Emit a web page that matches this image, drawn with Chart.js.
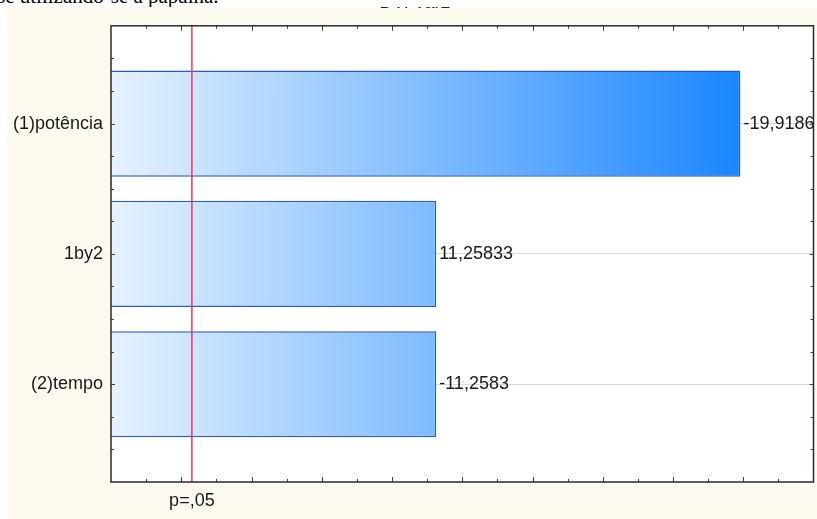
<!DOCTYPE html>
<html>
<head>
<meta charset="utf-8">
<title>Pareto</title>
<script src="https://cdn.jsdelivr.net/npm/chart.js@4"></script>
<style>
  html, body { margin: 0; padding: 0; background: #fff; }
  body { width: 817px; height: 519px; position: relative; overflow: hidden; }
  #doc-text {
    position: absolute; left: -3px; top: -14px;
    font: 21px/21px "Liberation Serif", "Times New Roman", serif;
    color: #000; white-space: nowrap;
  }
  #panel { position: absolute; left: 7px; top: 7px; width: 810px; height: 512px; background: #fffaf0; }
  #paretoChart { display: block; }
</style>
</head>
<body>
<div id="doc-text">se utilizando-se a papaína.</div>
<div id="panel"><canvas id="paretoChart" width="810" height="512"></canvas></div>
<script>
'use strict';

// effects, in the order they are listed on the chart
var factorLabels = ['(1)potência', '1by2', '(2)tempo'];
var effectValues = [-19.9186, 11.25833, -11.2583];
var effectText = ['-19,9186', '11,25833', '-11,2583'];

// critical value line
var pCritical = 4.303;
var pLabel = 'p=,05';

// axis ranges
var xRange = [2, 22];
var yRange = [-0.75, 2.75];
var titleLine = 'DV: Var2';

var FONT = '"Liberation Sans", Arial, sans-serif';
var FONT_SIZE = 18;

var maxEffect = Math.max.apply(null, effectValues.map(Math.abs));

function barGradient(c) {
    var chart = c.chart;
    var area = chart.chartArea;
    if (!area) return '#8cc4ff';
    var x1 = chart.scales.x.getPixelForValue(maxEffect);
    var g = chart.ctx.createLinearGradient(area.left, 0, x1, 0);
    g.addColorStop(0, '#e6f2ff');
    g.addColorStop(1, '#1a86ff');
    return g;
}

var paretoDecor = {
    id: 'paretoDecor',
    beforeDraw: function (chart) {
        var a = chart.chartArea;
        chart.ctx.save();
        chart.ctx.fillStyle = '#ffffff';
        chart.ctx.fillRect(a.left, a.top, a.right - a.left, a.bottom - a.top);
        chart.ctx.restore();
    },
    afterDatasetsDraw: function (chart) {
        var ctx = chart.ctx;
        var a = chart.chartArea;
        var xs = chart.scales.x;
        var ys = chart.scales.y;
        ctx.save();

        // value labels beside each bar
        ctx.save();
        ctx.beginPath();
        ctx.rect(a.left, 0, a.right - a.left + 1, chart.height);
        ctx.clip();
        ctx.font = FONT_SIZE + 'px ' + FONT;
        ctx.fillStyle = '#1a1a1a';
        ctx.textAlign = 'left';
        ctx.textBaseline = 'middle';
        effectValues.forEach(function (v, i) {
            ctx.fillText(effectText[i], xs.getPixelForValue(Math.abs(v)) + 3, ys.getPixelForValue(i));
        });
        ctx.restore();

        // p = .05 line
        var px = xs.getPixelForValue(pCritical);
        ctx.strokeStyle = '#ea3a4c';
        ctx.lineWidth = 1.5;
        ctx.beginPath();
        ctx.moveTo(px, a.top);
        ctx.lineTo(px, a.bottom);
        ctx.stroke();

        ctx.font = FONT_SIZE + 'px ' + FONT;
        ctx.fillStyle = '#1a1a1a';
        ctx.textAlign = 'center';
        ctx.textBaseline = 'alphabetic';
        ctx.fillText(pLabel, px, a.bottom + 24);

        // inward tick marks on all four sides
        ctx.strokeStyle = '#444';
        ctx.lineWidth = 1;
        ctx.beginPath();
        var v, x, y, len;
        for (v = Math.ceil(xRange[0]) + 1; v < xRange[1]; v++) {
            x = Math.round(xs.getPixelForValue(v)) + 0.5;
            len = v % 2 === 0 ? 5 : 3;
            ctx.moveTo(x, a.top); ctx.lineTo(x, a.top + len);
            ctx.moveTo(x, a.bottom); ctx.lineTo(x, a.bottom - len);
        }
        for (v = -0.5; v <= 2.5; v += 0.25) {
            y = Math.round(ys.getPixelForValue(v)) + 0.5;
            len = Number.isInteger(v) ? 4 : 3;
            ctx.moveTo(a.left, y); ctx.lineTo(a.left + len, y);
            ctx.moveTo(a.right, y); ctx.lineTo(a.right - len, y);
        }
        ctx.stroke();

        // frame
        ctx.strokeStyle = '#2a2a2a';
        ctx.lineWidth = 1.5;
        ctx.strokeRect(a.left, a.top, a.right - a.left, a.bottom - a.top);

        // clipped title line above the frame
        ctx.font = FONT_SIZE + 'px ' + FONT;
        ctx.fillStyle = '#222';
        ctx.textAlign = 'center';
        ctx.fillText(titleLine, 408, 1);

        ctx.restore();
    }
};

new Chart(document.getElementById('paretoChart'), {
    type: 'bar',
    data: {
        datasets: [{
            data: effectValues.map(function (v, i) { return { x: Math.abs(v), y: i }; }),
            backgroundColor: barGradient,
            borderColor: '#2a5cc8',
            borderWidth: 1.5,
            categoryPercentage: 1,
            barPercentage: 0.815
        }]
    },
    options: {
        indexAxis: 'y',
        responsive: false,
        animation: false,
        layout: { padding: { top: 16, right: 3.5, bottom: 0, left: 0 } },
        plugins: {
            legend: { display: false },
            tooltip: { enabled: false }
        },
        scales: {
            x: {
                type: 'linear',
                min: xRange[0],
                max: xRange[1],
                offset: false,
                ticks: { display: false },
                grid: { display: false },
                border: { display: false },
                afterFit: function (s) { s.height = 37; }
            },
            y: {
                type: 'linear',
                reverse: true,
                min: yRange[0],
                max: yRange[1],
                offset: false,
                afterBuildTicks: function (s) {
                    s.ticks = s.ticks.filter(function (t) { return Number.isInteger(t.value); });
                },
                afterFit: function (s) { s.width = 104; },
                ticks: {
                    stepSize: 1,
                    padding: 8,
                    color: '#1a1a1a',
                    font: { family: FONT, size: FONT_SIZE },
                    callback: function (v) { return factorLabels[v] || ''; }
                },
                grid: { color: '#d9d9d9', drawTicks: false, offset: false },
                border: { display: false }
            }
        }
    },
    plugins: [paretoDecor]
});
</script>
</body>
</html>
